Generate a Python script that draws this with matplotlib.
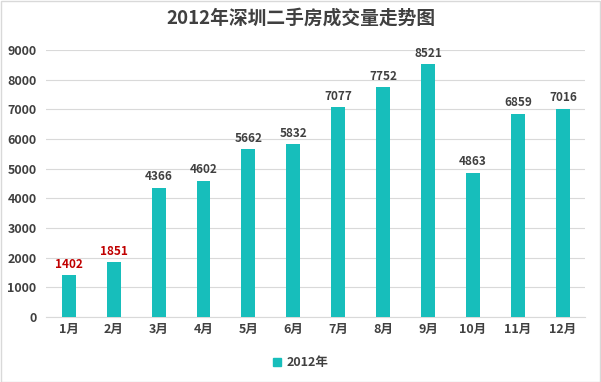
import matplotlib.pyplot as plt
from matplotlib.patches import Patch

plt.rcParams['font.family'] = ['Noto Sans CJK SC', 'DejaVu Sans']

# 2012年深圳二手房成交量
months = ['1月', '2月', '3月', '4月', '5月', '6月', '7月', '8月', '9月', '10月', '11月', '12月']
volumes = [1402, 1851, 4366, 4602, 5662, 5832, 7077, 7752, 8521, 4863, 6859, 7016]
label_colors = ['#C00000', '#C00000'] + ['#404040'] * 10
yticks = [0, 1000, 2000, 3000, 4000, 5000, 6000, 7000, 8000, 9000]

bar_color = '#17BEBB'
text_color = '#404040'

fig = plt.figure(figsize=(6.01, 3.82), dpi=100)
ax = fig.add_axes([0.077, 0.170, 0.897, 0.699])

x = range(len(months))
bars = ax.bar(x, volumes, width=0.31, color=bar_color, zorder=3)

for xi, v, c in zip(x, volumes, label_colors):
    ax.text(xi, v + 150, str(v), ha='center', va='bottom', fontsize=8.5,
            fontweight='bold', color=c)

ax.set_xlim(-0.5, len(months) - 0.5)
ax.set_ylim(0, 9000)
ax.set_yticks(yticks)
ax.set_yticklabels([str(t) for t in yticks], fontsize=9, fontweight='bold', color=text_color)
ax.set_xticks(list(x))
ax.set_xticklabels(months, fontsize=9, fontweight='bold', color=text_color)
ax.tick_params(axis='x', length=0, pad=4)
ax.tick_params(axis='y', length=0, pad=7)

ax.grid(axis='y', color='#D9D9D9', linewidth=0.8, zorder=0)
for s in ['top', 'right', 'left']:
    ax.spines[s].set_visible(False)
ax.spines['bottom'].set_color('#D9D9D9')

fig.text(0.5, 0.953, '2012年深圳二手房成交量走势图', ha='center', va='center',
         fontsize=13.5, fontweight='bold', color=text_color)

fig.legend(handles=[Patch(color=bar_color, label='2012年')], loc='center',
           bbox_to_anchor=(0.5, 0.05), frameon=False, handlelength=0.7,
           handleheight=0.7, handletextpad=0.4,
           prop={'size': 9, 'weight': 'bold'}, labelcolor=text_color)

fig.patches.append(plt.Rectangle((0.001, 0.001), 0.997, 0.997, transform=fig.transFigure,
                                 fill=False, edgecolor='#D9D9D9', linewidth=1))

fig.savefig('out.png', dpi=100, facecolor='white')
